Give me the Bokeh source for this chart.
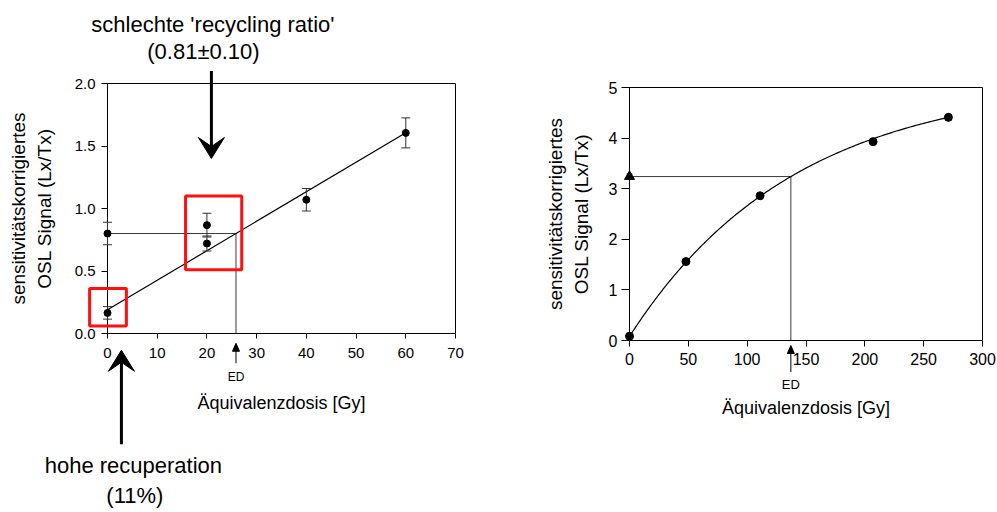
import numpy as np
from bokeh.plotting import figure
from bokeh.layouts import row, column
from bokeh.core.properties import value
from bokeh.models import Range1d, FixedTicker, NumeralTickFormatter, Spacer

FONT = "Liberation Sans"

# ---- left panel: linear growth curve ----
lin_dose = [0, 20, 20, 40, 60]
lin_signal = [0.165, 0.867, 0.72, 1.07, 1.605]
lin_error = [0.05, 0.095, 0.06, 0.09, 0.12]
lin_natural = 0.80
lin_natural_error = 0.09
lin_intercept = 0.19
lin_slope = 0.0236
lin_xticks = [0, 10, 20, 30, 40, 50, 60, 70]
lin_yticks = [0.0, 0.5, 1.0, 1.5, 2.0]

# ---- right panel: saturating exponential growth curve ----
sat_dose = [0, 48, 111, 207, 271]
sat_signal = [0.085, 1.56, 2.86, 3.93, 4.41]
sat_error = [0.03, 0.04, 0.04, 0.05, 0.05]
sat_natural = 3.24
sat_natural_error = 0.05
sat_offset = 0.08
sat_amplitude = 5.06
sat_d0 = 140.0
sat_xticks = [0, 50, 100, 150, 200, 250, 300]
sat_yticks = [0, 1, 2, 3, 4, 5]

X_TITLE = "Äquivalenzdosis [Gy]"
Y_TITLE = "sensitivitätskorrigiertes\nOSL Signal (Lx/Tx)"

TOP = "overlay"   # drawn above the axes and not clipped to the frame

# frame sizes in pixels (used to size arrow heads in screen units)
FRAME1 = (348, 250)
FRAME2 = (353, 253)


def style_axes(p, xticks, yticks, yfmt, tick_px, x_out, y_out, x_std, y_std,
               x_title_std, y_title_std):
    p.grid.visible = False
    p.outline_line_color = "black"
    p.outline_line_width = 1
    p.xaxis.ticker = FixedTicker(ticks=xticks)
    p.yaxis.ticker = FixedTicker(ticks=yticks)
    p.yaxis.formatter = NumeralTickFormatter(format=yfmt)
    for ax in (p.xaxis, p.yaxis):
        ax.minor_tick_line_color = None
        ax.major_tick_in = 0
        ax.axis_line_color = "black"
        ax.major_tick_line_color = "black"
        ax.major_label_text_font = FONT
        ax.major_label_text_font_size = f"{tick_px}px"
        ax.major_label_text_color = "black"
        ax.axis_label_text_font = FONT
        ax.axis_label_text_font_style = "normal"
        ax.axis_label_text_color = "black"
    p.xaxis.major_tick_out = x_out
    p.yaxis.major_tick_out = y_out
    p.xaxis.major_label_standoff = x_std
    p.yaxis.major_label_standoff = y_std
    p.xaxis.axis_label = X_TITLE
    p.yaxis.axis_label = Y_TITLE
    p.xaxis.axis_label_text_font_size = "18px"
    p.yaxis.axis_label_text_font_size = "19px"
    p.xaxis.axis_label_standoff = x_title_std
    p.yaxis.axis_label_standoff = y_title_std


def error_bars(p, xs, ys, errs, cap, color="#333333"):
    upper = [y + e for y, e in zip(ys, errs)]
    lower = [y - e for y, e in zip(ys, errs)]
    p.segment(x0=list(xs), y0=lower, x1=list(xs), y1=upper,
              line_color=color, line_width=1, level=TOP)
    p.scatter(list(xs) * 2, upper + lower, marker="dash", size=cap,
              line_color=color, line_width=1, level=TOP)


def text(p, x, y, s, size):
    p.text(x=[x], y=[y], text=[s], text_align="center", text_baseline="alphabetic",
           text_font=value(FONT), text_font_size=value(f"{size}px"),
           text_color="black", level=TOP)


def arrow(p, frame, x, y_from, y_tip, shaft, head_w, head_l, notch):
    """Vertical arrow with a filled (optionally notched) head; sizes in pixels."""
    kx = (p.x_range.end - p.x_range.start) / frame[0]
    ky = (p.y_range.end - p.y_range.start) / frame[1]
    d = 1 if y_tip > y_from else -1
    back = y_tip - d * head_l * ky
    inner = y_tip - d * notch * ky
    p.segment(x0=[x], y0=[y_from], x1=[x], y1=[inner],
              line_color="black", line_width=shaft, level=TOP)
    p.patch([x, x + head_w / 2 * kx, x, x - head_w / 2 * kx],
            [y_tip, back, inner, back],
            fill_color="black", line_color="black", line_width=1, level=TOP)


# ======================= left panel =======================
p1 = figure(width=500, height=512, x_range=Range1d(0, 70), y_range=Range1d(0, 2),
            output_backend="svg", toolbar_location=None,
            min_border_left=107, min_border_right=45,
            min_border_top=83, min_border_bottom=179)
style_axes(p1, lin_xticks, lin_yticks, "0.0", 15, 5, 6, 9, 6, 32, 17)

lin_ed = (lin_natural - lin_intercept) / lin_slope
fit_x = [0, max(lin_dose)]
fit_y = [lin_intercept + lin_slope * x for x in fit_x]

# equivalent-dose construction lines and the linear fit
p1.line([0, lin_ed, lin_ed], [lin_natural, lin_natural, 0], line_color="#3a3a3a", line_width=1)
p1.line(fit_x, fit_y, line_color="black", line_width=1.2)

error_bars(p1, lin_dose, lin_signal, lin_error, 9)
error_bars(p1, [0], [lin_natural], [lin_natural_error], 9)
p1.scatter(lin_dose, lin_signal, size=7, color="black", level=TOP)
p1.scatter([0], [lin_natural], size=7, color="black", level=TOP)

# red frames around the problematic points
p1.quad(left=[-3.6, 15.7], right=[3.8, 27.0], bottom=[0.06, 0.51], top=[0.36, 1.10],
        fill_alpha=0, line_color="#ff1010", line_width=3, level=TOP)

# callouts
arrow(p1, FRAME1, 20.9, 2.10, 1.40, 3, 26, 21, 12)
arrow(p1, FRAME1, 2.8, -0.886, -0.134, 3, 26, 21, 12)
text(p1, 21.2, 2.474, "schlechte 'recycling ratio'", 22)
text(p1, 19.3, 2.258, "(0.81±0.10)", 22)
text(p1, 5.2, -1.059, "hohe recuperation", 22)
text(p1, 5.5, -1.299, "(11%)", 22)

# ED marker below the axis
arrow(p1, FRAME1, lin_ed, -0.238, -0.078, 1, 7, 8, 8)
text(p1, lin_ed, -0.345, "ED", 12)

# ======================= right panel =======================
p2 = figure(width=497, height=508, x_range=Range1d(0, 300), y_range=Range1d(0, 5),
            output_backend="svg", toolbar_location=None,
            min_border_left=129, min_border_right=15,
            min_border_top=83, min_border_bottom=172)
style_axes(p2, sat_xticks, sat_yticks, "0", 16, 6, 8, 6, 4, 30, 14)

sat_ed = -sat_d0 * np.log(1 - (sat_natural - sat_offset) / sat_amplitude)
curve_x = np.linspace(0, max(sat_dose) + 1, 200)
curve_y = sat_offset + sat_amplitude * (1 - np.exp(-curve_x / sat_d0))

p2.line([0, sat_ed, sat_ed], [sat_natural, sat_natural, 0], line_color="#3a3a3a", line_width=1)
p2.line(curve_x, curve_y, line_color="black", line_width=1.2)

error_bars(p2, sat_dose, sat_signal, sat_error, 6)
error_bars(p2, [0], [sat_natural], [sat_natural_error], 6)
p2.scatter(sat_dose, sat_signal, size=8, color="black", level=TOP)
p2.scatter([0], [sat_natural], marker="triangle", size=10, color="black", level=TOP)

arrow(p2, FRAME2, sat_ed, -0.626, -0.099, 1, 7, 8, 8)
text(p2, sat_ed, -0.868, "ED", 13)

layout = row(p1, column(Spacer(width=497, height=4), p2))

from bokeh.embed import file_html
from bokeh.resources import INLINE
open("out.html", "w").write(file_html(layout, INLINE))
